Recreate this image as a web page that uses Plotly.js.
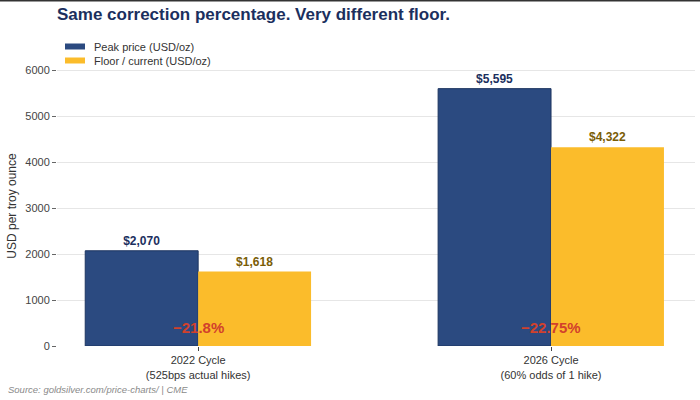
<!DOCTYPE html>
<html>
<head>
<meta charset="utf-8">
<script src="https://cdn.plot.ly/plotly-3.0.1.min.js"></script>
<style>
  html, body { margin: 0; padding: 0; background: #fff; }
  #chart { width: 700px; height: 400px; }
</style>
</head>
<body>
<div id="chart"></div>
<script>
// Gold price cycles: peak vs floor
const categories = ["2022 Cycle<br>(525bps actual hikes)", "2026 Cycle<br>(60% odds of 1 hike)"];
const seriesNames = ["Peak price (USD/oz)", "Floor / current (USD/oz)"];
const peakPrices = [2070, 5595];
const floorPrices = [1618, 4322];
const peakLabels = ["$2,070", "$5,595"];
const floorLabels = ["$1,618", "$4,322"];
const corrections = ["\u221221.8%", "\u221222.75%"];
const correctionLabelY = [400, 400];

const W = 700, H = 400;
const M = { l: 57, r: 5, t: 66, b: 54 };
const plotW = W - M.l - M.r, plotH = H - M.t - M.b;
const FONT = "Liberation Sans, Arial, sans-serif";
const BLUE = "#2b4a80", GOLD = "#fbbc2b";

// pixel -> paper helpers for decorations outside the plot area
const px = v => (v - M.l) / plotW;
const py = v => (H - M.b - v) / plotH;

const traces = [
  {
    type: "bar",
    name: seriesNames[0],
    x: categories,
    y: peakPrices,
    text: peakLabels,
    textposition: "outside",
    texttemplate: "%{text}",
    cliponaxis: false,
    textfont: { family: FONT, size: 12, color: "#1b2f5e", weight: "bold" },
    marker: { color: BLUE, line: { color: "#1d3560", width: 1 } },
    hoverinfo: "skip"
  },
  {
    type: "bar",
    name: seriesNames[1],
    x: categories,
    y: floorPrices,
    text: floorLabels,
    textposition: "outside",
    texttemplate: "%{text}",
    cliponaxis: false,
    textfont: { family: FONT, size: 12, color: "#7a5d06", weight: "bold" },
    marker: { color: GOLD, line: { width: 0 } },
    hoverinfo: "skip"
  }
];

const annotations = categories.map((c, i) => ({
  x: c, y: correctionLabelY[i], xref: "x", yref: "y",
  text: "<b>" + corrections[i] + "</b>",
  showarrow: false,
  font: { family: FONT, size: 15, color: "#d2412c" },
  xanchor: "center", yanchor: "middle"
}));

// legend entries
const legendRows = [46.5, 60.5];
const legendColors = [BLUE, GOLD];
const shapes = [];
seriesNames.forEach((name, i) => {
  shapes.push({
    type: "rect", xref: "paper", yref: "paper",
    x0: px(65), x1: px(85), y0: py(legendRows[i] - 3), y1: py(legendRows[i] + 3),
    fillcolor: legendColors[i], line: { width: 0 }
  });
  annotations.push({
    xref: "paper", yref: "paper", x: px(92), y: py(legendRows[i]),
    xanchor: "left", yanchor: "middle", showarrow: false,
    text: name, font: { family: FONT, size: 11, color: "#333" }
  });
});

annotations.push({
  xref: "paper", yref: "paper",
  x: px(6), y: py(390),
  xanchor: "left", yanchor: "middle",
  text: "<i>Source: goldsilver.com/price-charts/ | CME</i>",
  showarrow: false,
  font: { family: FONT, size: 9.5, color: "#8a8a8a" }
});

// thin dark rule along the top edge
shapes.push({
  type: "line", xref: "paper", yref: "paper",
  x0: px(0), x1: px(W), y0: py(0.5), y1: py(0.5),
  line: { color: "#333", width: 2 }
});

const layout = {
  width: W, height: H,
  margin: M,
  paper_bgcolor: "#ffffff",
  plot_bgcolor: "#ffffff",
  font: { family: FONT, color: "#333" },
  title: {
    text: "<b>Same correction percentage. Very different floor.</b>",
    x: 57 / W, xref: "container", xanchor: "left",
    y: 1 - 14 / H, yref: "container", yanchor: "middle",
    font: { family: FONT, size: 17, color: "#1b2f5e" }
  },
  barmode: "group",
  bargap: 0.36,
  bargroupgap: 0,
  showlegend: false,
  xaxis: {
    type: "category",
    range: [-0.40, 1.408],
    showgrid: false,
    zeroline: false,
    showline: false,
    ticks: "outside",
    ticklen: 4,
    tickcolor: "#444",
    tickfont: { size: 11, color: "#333" }
  },
  yaxis: {
    range: [0, 6087],
    tickvals: [0, 1000, 2000, 3000, 4000, 5000, 6000],
    showgrid: true,
    gridcolor: "#e6e6e6",
    gridwidth: 1,
    zeroline: false,
    showline: false,
    ticks: "outside",
    ticklen: 4,
    tickcolor: "#666",
    tickfont: { size: 11, color: "#444" },
    title: { text: "USD per troy ounce", font: { size: 12, color: "#333" }, standoff: 6 }
  },
  shapes: shapes,
  annotations: annotations
};

Plotly.newPlot("chart", traces, layout, { displayModeBar: false, staticPlot: true });
</script>
</body>
</html>
